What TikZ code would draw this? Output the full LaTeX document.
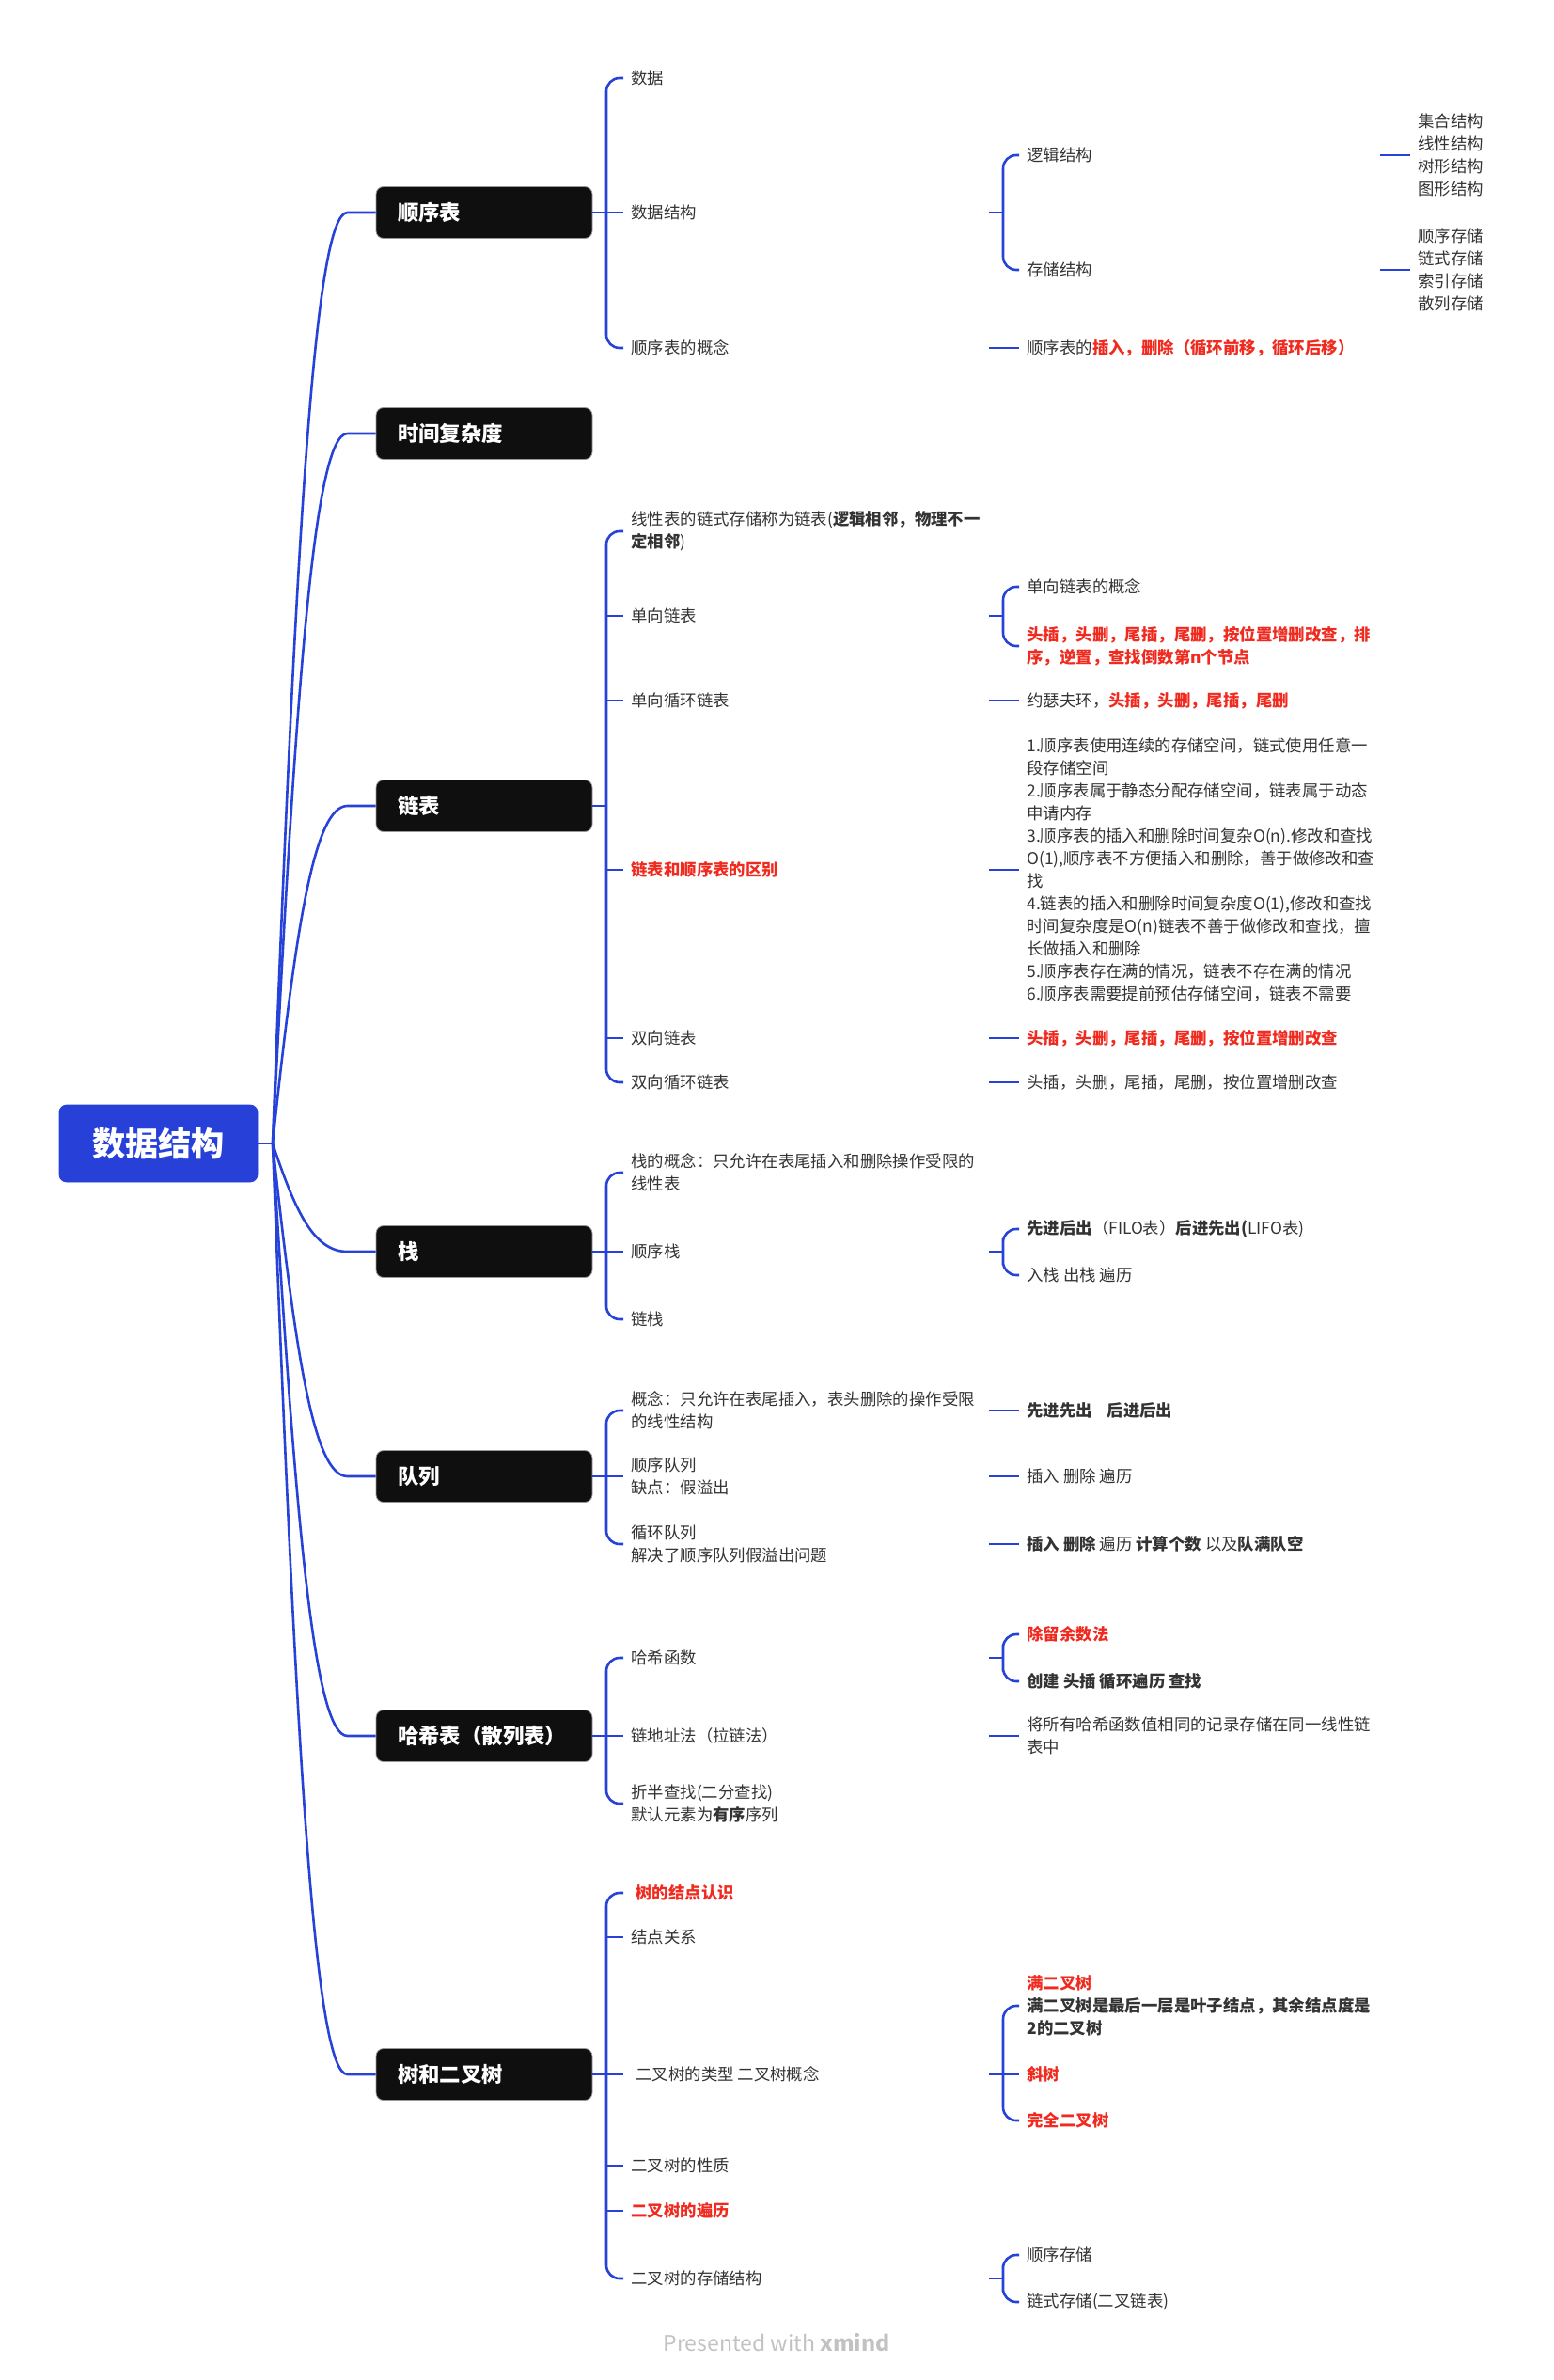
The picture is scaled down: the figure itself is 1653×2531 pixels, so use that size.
\documentclass[tikz,border=0pt]{standalone}
\usepackage{fontspec}
\setmainfont{Noto Sans CJK SC}
\usetikzlibrary{calc}
\definecolor{ink}{gray}{0.2}
\definecolor{linkblue}{RGB}{38,66,216}
\definecolor{rootfill}{RGB}{38,64,216}
\definecolor{boxfill}{gray}{0.06}
\definecolor{hot}{RGB}{240,42,30}
\definecolor{faint}{gray}{0.76}
\newcommand{\redb}[1]{\textcolor{hot}{\textbf{#1}}}

\begin{document}
\begin{tikzpicture}[
  x=0.5pt, y=-0.5pt,
  root/.style={fill=rootfill, draw=rootfill, rounded corners=4pt, minimum width=105.5pt,
               minimum height=41pt, inner sep=0pt, text=white,
               font=\fontsize{17.6}{20}\selectfont\bfseries},
  topic/.style={fill=boxfill, draw=black!40, line width=.4pt, rounded corners=4pt,
                text width=92pt, inner xsep=11.5pt, inner ysep=0pt, minimum height=27.5pt,
                align=left, text=white, font=\fontsize{11.2}{13}\selectfont\bfseries},
  leaf/.style={anchor=west, inner sep=0pt, align=left, text=ink,
               font=\fontsize{8.7}{12}\selectfont},
  hotleaf/.style={leaf, text=hot, font=\fontsize{8.7}{12}\selectfont\bfseries},
  wire/.style={draw=linkblue, line width=1.3pt},
  fork/.style={wire, rounded corners=7pt},
]
\useasboundingbox (0,0) rectangle (1653,2531);

\node[root] (ds) at (168.5,1216) {数据结构};
\coordinate (hub) at (290,1216);
\node[topic] (seq) at (515,226) {顺序表};
\node[topic] (time) at (515,461) {时间复杂度};
\node[topic] (link) at (515,857) {链表};
\node[topic] (stack) at (515,1331) {栈};
\node[topic] (queue) at (515,1570) {队列};
\node[topic] (hash) at (515,1846) {哈希表（散列表）};
\node[topic] (tree) at (515,2206) {树和二叉树};

% columns of the brackets
\coordinate (colA) at (645,0);
\coordinate (colB) at (1052,0);
\coordinate (colS) at (1067,0);
\coordinate (colD) at (1468,0);

\draw[wire] (ds.east) -- (hub);
\foreach \b in {seq,time,link,stack,queue,hash,tree}
  \draw[wire] (hub) .. controls ($(hub)!.65!(\b.west)+(-46.5,0)$) and ($(\b.west)+(-65,0)$)
    .. ($(\b.west)+(-30,0)$) -- (\b.west);

% 顺序表
\node[leaf] (sq-a) at (671,83) {数据};
\node[leaf] (sq-b) at (671,226) {数据结构};
\node[leaf] (sq-c) at (671,370) {顺序表的概念};
\coordinate (sq-j) at (seq.east -| colA);
\draw[wire] (seq.east) -- (sq-j) -- ([xshift=-4pt]sq-b.west);
\draw[fork] ([xshift=-4pt]sq-a.west) -| (sq-j) |- ([xshift=-4pt]sq-c.west);

\node[leaf] (sq-b1) at (1092,165) {逻辑结构};
\node[leaf] (sq-b2) at (1092,287) {存储结构};
\node[leaf] (sq-c1) at (1092,370) {顺序表的\redb{插入，删除（循环前移，循环后移）}};
\coordinate (sq-bj) at (sq-b.west -| colS);
\draw[wire] (sq-b.west -| colB) -- (sq-bj);
\draw[fork] ([xshift=-4pt]sq-b1.west) -| (sq-bj) |- ([xshift=-4pt]sq-b2.west);
\draw[wire] (sq-c.west -| colB) -- ([xshift=-4pt]sq-c1.west);

\node[leaf] (sq-b1a) at (1508,165) {集合结构\\线性结构\\树形结构\\图形结构};
\node[leaf] (sq-b2a) at (1508,287) {顺序存储\\链式存储\\索引存储\\散列存储};
\draw[wire] (sq-b1.west -| colD) -- ([xshift=-4pt]sq-b1a.west);
\draw[wire] (sq-b2.west -| colD) -- ([xshift=-4pt]sq-b2a.west);

% 链表
\node[leaf] (li-a) at (671,565) {线性表的链式存储称为链表(\textbf{逻辑相邻，物理不一}\\\textbf{定相邻})};
\node[leaf] (li-b) at (671,655) {单向链表};
\node[leaf] (li-c) at (671,745) {单向循环链表};
\node[hotleaf] (li-d) at (671,925) {链表和顺序表的区别};
\node[leaf] (li-e) at (671,1104) {双向链表};
\node[leaf] (li-f) at (671,1151) {双向循环链表};
\coordinate (li-j) at (link.east -| colA);
\draw[wire] (link.east) -- (li-j);
\draw[fork] ([xshift=-4pt]li-a.west) -| (li-j) |- ([xshift=-4pt]li-f.west);
\foreach \n in {li-b,li-c,li-d,li-e}
  \draw[wire] (\n.west -| colA) -- ([xshift=-4pt]\n.west);

\node[leaf] (li-b1) at (1092,624) {单向链表的概念};
\node[hotleaf] (li-b2) at (1092,687) {头插，头删，尾插，尾删，按位置增删改查，排\\序，逆置，查找倒数第n个节点};
\coordinate (li-bj) at (li-b.west -| colS);
\draw[wire] (li-b.west -| colB) -- (li-bj);
\draw[fork] ([xshift=-4pt]li-b1.west) -| (li-bj) |- ([xshift=-4pt]li-b2.west);

\node[leaf] (li-c1) at (1092,745) {约瑟夫环，\redb{头插，头删，尾插，尾删}};
\node[leaf] (li-d1) at (1092,925) {1.顺序表使用连续的存储空间，链式使用任意一\\段存储空间\\2.顺序表属于静态分配存储空间，链表属于动态\\申请内存\\3.顺序表的插入和删除时间复杂O(n).修改和查找\\O(1),顺序表不方便插入和删除，善于做修改和查\\找\\4.链表的插入和删除时间复杂度O(1),修改和查找\\时间复杂度是O(n)链表不善于做修改和查找，擅\\长做插入和删除\\5.顺序表存在满的情况，链表不存在满的情况\\6.顺序表需要提前预估存储空间，链表不需要};
\node[hotleaf] (li-e1) at (1092,1104) {头插，头删，尾插，尾删，按位置增删改查};
\node[leaf] (li-f1) at (1092,1151) {头插，头删，尾插，尾删，按位置增删改查};
\foreach \n in {li-c,li-d,li-e,li-f}
  \draw[wire] (\n.west -| colB) -- ([xshift=-4pt]\n1.west);

% 栈
\node[leaf] (st-a) at (671,1247) {栈的概念：只允许在表尾插入和删除操作受限的\\线性表};
\node[leaf] (st-b) at (671,1331) {顺序栈};
\node[leaf] (st-c) at (671,1403) {链栈};
\coordinate (st-j) at (stack.east -| colA);
\draw[wire] (stack.east) -- (st-j) -- ([xshift=-4pt]st-b.west);
\draw[fork] ([xshift=-4pt]st-a.west) -| (st-j) |- ([xshift=-4pt]st-c.west);

\node[leaf] (st-b1) at (1092,1307) {\textbf{先进后出}（FILO表）\textbf{后进先出(}LIFO表)};
\node[leaf] (st-b2) at (1092,1356) {入栈 出栈 遍历};
\coordinate (st-bj) at (st-b.west -| colS);
\draw[wire] (st-b.west -| colB) -- (st-bj);
\draw[fork] ([xshift=-4pt]st-b1.west) -| (st-bj) |- ([xshift=-4pt]st-b2.west);

% 队列
\node[leaf] (qu-a) at (671,1500) {概念：只允许在表尾插入，表头删除的操作受限\\的线性结构};
\node[leaf] (qu-b) at (671,1570) {顺序队列\\缺点：假溢出};
\node[leaf] (qu-c) at (671,1642) {循环队列\\解决了顺序队列假溢出问题};
\coordinate (qu-j) at (queue.east -| colA);
\draw[wire] (queue.east) -- (qu-j) -- ([xshift=-4pt]qu-b.west);
\draw[fork] ([xshift=-4pt]qu-a.west) -| (qu-j) |- ([xshift=-4pt]qu-c.west);

\node[leaf] (qu-a1) at (1092,1500) {\textbf{先进先出\hspace{.9em}后进后出}};
\node[leaf] (qu-b1) at (1092,1570) {插入 删除 遍历};
\node[leaf] (qu-c1) at (1092,1642) {\textbf{插入 删除} 遍历 \textbf{计算个数} 以及\textbf{队满队空}};
\foreach \n in {qu-a,qu-b,qu-c}
  \draw[wire] (\n.west -| colB) -- ([xshift=-4pt]\n1.west);

% 哈希表
\node[leaf] (ha-a) at (671,1763) {哈希函数};
\node[leaf] (ha-b) at (671,1846) {链地址法（拉链法）};
\node[leaf] (ha-c) at (671,1918) {折半查找(二分查找)\\默认元素为\textbf{有序}序列};
\coordinate (ha-j) at (hash.east -| colA);
\draw[wire] (hash.east) -- (ha-j) -- ([xshift=-4pt]ha-b.west);
\draw[fork] ([xshift=-4pt]ha-a.west) -| (ha-j) |- ([xshift=-4pt]ha-c.west);

\node[hotleaf] (ha-a1) at (1092,1738) {除留余数法};
\node[leaf] (ha-a2) at (1092,1788) {\textbf{创建 头插 循环遍历 查找}};
\coordinate (ha-aj) at (ha-a.west -| colS);
\draw[wire] (ha-a.west -| colB) -- (ha-aj);
\draw[fork] ([xshift=-4pt]ha-a1.west) -| (ha-aj) |- ([xshift=-4pt]ha-a2.west);
\node[leaf] (ha-b1) at (1092,1846) {将所有哈希函数值相同的记录存储在同一线性链\\表中};
\draw[wire] (ha-b.west -| colB) -- ([xshift=-4pt]ha-b1.west);

% 树和二叉树
\node[hotleaf] (tr-a) at (671,2013) {\hspace*{2.5pt}树的结点认识};
\node[leaf] (tr-b) at (671,2060) {结点关系};
\node[leaf] (tr-c) at (671,2206) {\hspace*{2.5pt}二叉树的类型 二叉树概念};
\node[leaf] (tr-d) at (671,2303) {二叉树的性质};
\node[hotleaf] (tr-e) at (671,2351) {二叉树的遍历};
\node[leaf] (tr-f) at (671,2423) {二叉树的存储结构};
\coordinate (tr-j) at (tree.east -| colA);
\draw[wire] (tree.east) -- (tr-j) -- ([xshift=-4pt]tr-c.west);
\draw[fork] ([xshift=-4pt]tr-a.west) -| (tr-j) |- ([xshift=-4pt]tr-f.west);
\foreach \n in {tr-b,tr-d,tr-e}
  \draw[wire] (\n.west -| colA) -- ([xshift=-4pt]\n.west);

\node[leaf] (tr-c1) at (1092,2133) {\redb{满二叉树}\\\textbf{满二叉树是最后一层是叶子结点，其余结点度是}\\\textbf{2的二叉树}};
\node[hotleaf] (tr-c2) at (1092,2206) {斜树};
\node[hotleaf] (tr-c3) at (1092,2255) {完全二叉树};
\coordinate (tr-cj) at (tr-c.west -| colS);
\draw[wire] (tr-c.west -| colB) -- (tr-cj) -- ([xshift=-4pt]tr-c2.west);
\draw[fork] ([xshift=-4pt]tr-c1.west) -| (tr-cj) |- ([xshift=-4pt]tr-c3.west);

\node[leaf] (tr-f1) at (1092,2398) {顺序存储};
\node[leaf] (tr-f2) at (1092,2448) {链式存储(二叉链表)};
\coordinate (tr-fj) at (tr-f.west -| colS);
\draw[wire] (tr-f.west -| colB) -- (tr-fj);
\draw[fork] ([xshift=-4pt]tr-f1.west) -| (tr-fj) |- ([xshift=-4pt]tr-f2.west);

\node[text=faint, font=\fontsize{11.5}{13}\selectfont] (mark) at (826,2491) {Presented with \textbf{xmind}};
\end{tikzpicture}
\end{document}
